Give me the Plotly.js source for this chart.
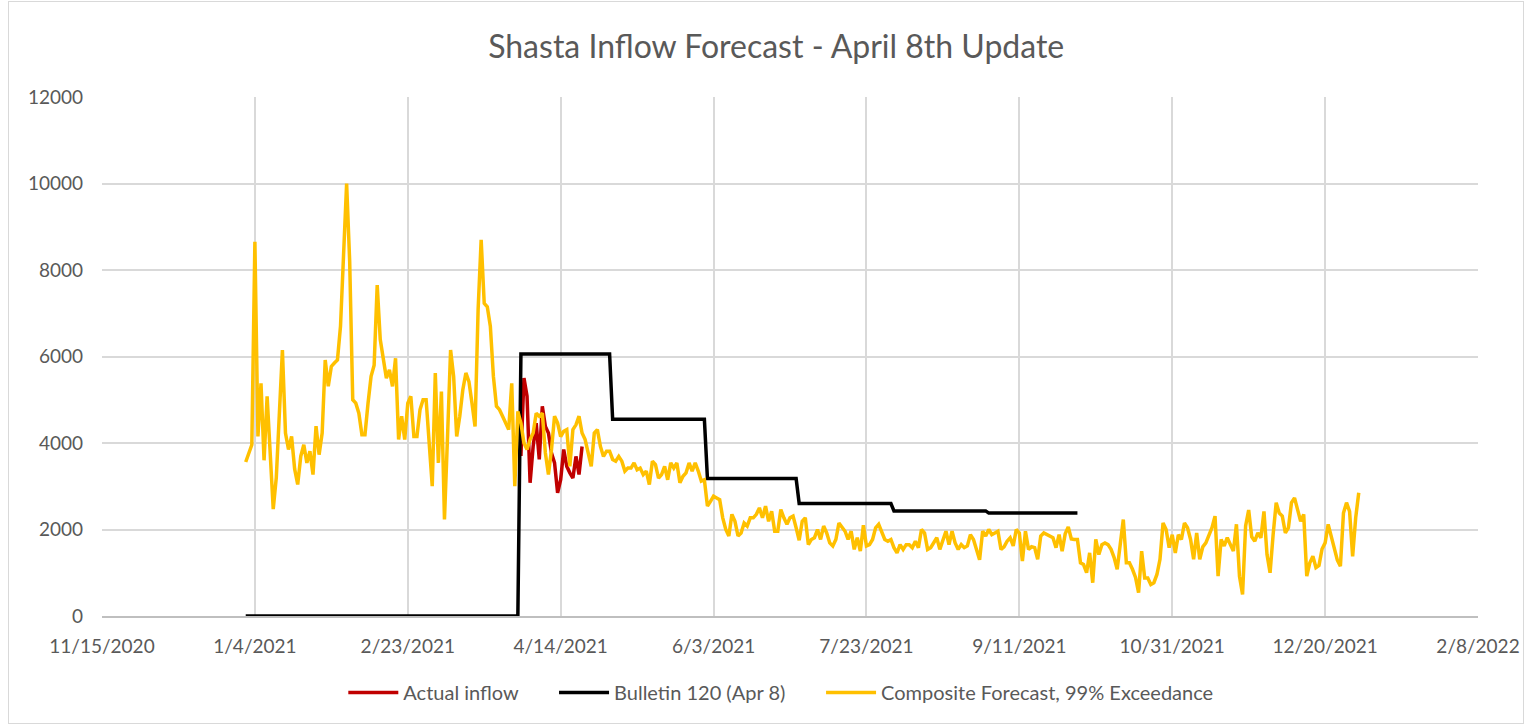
<!DOCTYPE html>
<html>
<head>
<meta charset="utf-8">
<script src="https://cdn.plot.ly/plotly-3.0.1.min.js"></script>
<style>
  html, body { margin: 0; padding: 0; background: #ffffff; }
  #wrap { position: relative; width: 1528px; height: 725px; }
  #chart { width: 1528px; height: 725px; }
  #frame {
    position: absolute; left: 8px; top: 1px; width: 1514px; height: 721px;
    border: 1px solid #d9d9d9; pointer-events: none;
  }
</style>
</head>
<body>
<div id="wrap">
  <div id="chart"></div>
  <div id="frame"></div>
</div>
<script>
// daily composite forecast, 1/1/2021 .. 12/31/2021 (cfs)
const compositeStart = "2021-01-01";
const compositeValues = [
  3560, 3750, 3960, 8650, 4150, 5380, 3600, 5080, 3770, 2470,
  3200, 4700, 6150, 4230, 3850, 4150, 3400, 3040, 3690, 3960,
  3540, 3810, 3270, 4390, 3730, 4230, 5920, 5310, 5770, 5850,
  5920, 6700, 8300, 10000, 8200, 5000, 4920, 4690, 4190, 4190,
  4920, 5540, 5800, 7650, 6390, 6000, 5500, 5690, 5310, 5960,
  4080, 4620, 4080, 4920, 5080, 4150, 4150, 4770, 5000, 5000,
  4000, 3000, 5620, 3540, 5190, 2230, 4150, 6150, 5540, 4150,
  4620, 5230, 5620, 5420, 4920, 4380, 7080, 8700, 7230, 7150,
  6700, 5540, 4850, 4770, 4620, 4460, 4310, 5380, 3000, 4730,
  4460, 4000, 3850, 4080, 4230, 4690, 4620, 4690, 3770, 3270,
  3850, 4620, 4460, 4150, 4270, 4310, 3460, 4310, 4420, 4620,
  4230, 4080, 3770, 3460, 4230, 4310, 3920, 3690, 3810, 3810,
  3620, 3580, 3690, 3580, 3350, 3420, 3420, 3540, 3380, 3420,
  3270, 3350, 3040, 3580, 3500, 3190, 3270, 3460, 3150, 3540,
  3420, 3540, 3080, 3230, 3310, 3540, 3350, 3540, 3350, 3120,
  3150, 2540, 2650, 2770, 2730, 2690, 2270, 2000, 1850, 2350,
  2190, 1850, 1920, 2150, 2080, 2270, 2270, 2350, 2500, 2270,
  2540, 2190, 2420, 1960, 1960, 2460, 2270, 2120, 2270, 2310,
  2040, 1750, 2190, 2270, 1650, 1770, 1810, 2000, 1770, 2080,
  1920, 1690, 1620, 1770, 2150, 2040, 1960, 1770, 1960, 1540,
  1810, 1500, 2100, 1620, 1650, 1770, 2040, 2120, 1960, 1770,
  1730, 1770, 1580, 1460, 1650, 1540, 1650, 1650, 1580, 1730,
  1580, 2000, 1920, 1540, 1580, 1690, 1810, 1540, 1730, 1960,
  1650, 1960, 1690, 1540, 1650, 1580, 1620, 1880, 1770, 1500,
  1300, 1960, 1850, 2000, 1880, 1920, 1960, 1540, 1600, 1730,
  1810, 1620, 2000, 1920, 1270, 1960, 1540, 1600, 1580, 1310,
  1850, 1920, 1880, 1830, 1810, 1580, 1880, 1500, 1900, 2060,
  1780, 1770, 1770, 1230, 1190, 1000, 1460, 770, 1770, 1420,
  1650, 1690, 1650, 1540, 1350, 1080, 1650, 2230, 1230, 1230,
  1080, 890, 540, 1500, 880, 880, 730, 770, 960, 1310,
  2150, 2000, 1580, 1880, 1460, 1880, 1770, 2150, 2040, 1770,
  1310, 1920, 1310, 1600, 1690, 1850, 2040, 2310, 920, 1770,
  1620, 1810, 1630, 1500, 2120, 920, 500, 2080, 2450, 1830,
  1730, 1920, 1810, 2420, 1420, 1000, 1880, 2620, 2380, 2310,
  1920, 2040, 2620, 2730, 2460, 2190, 2350, 920, 1230, 1380,
  1120, 1170, 1550, 1690, 2120, 1850, 1580, 1290, 1150, 2380,
  2620, 2420, 1380, 2270, 2850
];

// observed inflow, daily from 4/1/2021
const actualStart = "2021-04-01";
const actualValues = [
  3700, 5500, 5080, 3080, 3920, 4460, 3620, 4850, 4380, 4230,
  3770, 3540, 2850, 3150, 3850, 3460, 3310, 3190, 3690, 3270, 3920
];

// Bulletin 120 monthly steps
const bulletinDates = [
  "2021-01-01", "2021-03-31", "2021-04-01", "2021-04-30", "2021-05-01",
  "2021-05-31", "2021-06-01", "2021-06-30", "2021-07-01", "2021-07-31",
  "2021-08-01", "2021-08-31", "2021-09-01", "2021-09-30"
];
const bulletinValues = [
  0, 0, 6060, 6060, 4550, 4550, 3180, 3180, 2600, 2600, 2430, 2430, 2380, 2380
];

const tickDates = [
  "2020-11-15", "2021-01-04", "2021-02-23", "2021-04-14", "2021-06-03",
  "2021-07-23", "2021-09-11", "2021-10-31", "2021-12-20", "2022-02-08"
];
const tickLabels = [
  "11/15/2020", "1/4/2021", "2/23/2021", "4/14/2021", "6/3/2021",
  "7/23/2021", "9/11/2021", "10/31/2021", "12/20/2021", "2/8/2022"
];

(function () {
  const fontFamily = "Lato, 'Open Sans', sans-serif";
  const textColor = "#595959";
  const gridColor = "#d9d9d9";
  const pad = "\u00a0".repeat(6);

  function dailyDates(start, count) {
    const t0 = Date.parse(start + "T00:00:00Z");
    const out = [];
    for (let i = 0; i < count; i += 1) {
      out.push(new Date(t0 + i * 86400000).toISOString().slice(0, 10));
    }
    return out;
  }

  const traces = [
    {
      type: "scatter",
      mode: "lines",
      name: "Actual inflow" + pad,
      x: dailyDates(actualStart, actualValues.length),
      y: actualValues,
      line: { color: "#c00000", width: 3.5 },
      hovertemplate: "%{x}: %{y}<extra></extra>"
    },
    {
      type: "scatter",
      mode: "lines",
      name: "Bulletin 120 (Apr 8)" + pad,
      x: bulletinDates,
      y: bulletinValues,
      line: { color: "#000000", width: 3.5 },
      hovertemplate: "%{x}: %{y}<extra></extra>"
    },
    {
      type: "scatter",
      mode: "lines",
      name: "Composite Forecast, 99% Exceedance",
      x: dailyDates(compositeStart, compositeValues.length),
      y: compositeValues,
      line: { color: "#ffc000", width: 3.5 },
      hovertemplate: "%{x}: %{y}<extra></extra>"
    }
  ];

  const layout = {
    width: 1528,
    height: 725,
    margin: { l: 102, r: 50, t: 97, b: 109 },
    paper_bgcolor: "#ffffff",
    plot_bgcolor: "#ffffff",
    font: { family: fontFamily, color: textColor, size: 19 },
    title: {
      text: "Shasta Inflow Forecast - April 8th Update",
      font: { family: fontFamily, size: 32, color: textColor },
      xref: "container",
      x: 0.508,
      xanchor: "center",
      yref: "container",
      y: 0.935,
      yanchor: "middle"
    },
    xaxis: {
      type: "date",
      range: ["2020-11-15", "2022-02-08"],
      tickmode: "array",
      tickvals: tickDates,
      ticktext: tickLabels,
      showgrid: true,
      gridcolor: gridColor,
      gridwidth: 1.5,
      showline: true,
      linecolor: "#bfbfbf",
      linewidth: 1.5,
      zeroline: false,
      ticks: "",
      ticklabelstandoff: 12,
      tickfont: { family: fontFamily, size: 19, color: textColor }
    },
    yaxis: {
      range: [0, 12000],
      tickmode: "linear",
      tick0: 0,
      dtick: 2000,
      tickformat: "d",
      showgrid: true,
      gridcolor: gridColor,
      gridwidth: 1.5,
      showline: false,
      zeroline: false,
      ticks: "",
      ticklabelstandoff: 18,
      tickfont: { family: fontFamily, size: 19, color: textColor }
    },
    showlegend: true,
    legend: {
      orientation: "h",
      xref: "container",
      x: 0.511,
      xanchor: "center",
      yref: "container",
      y: 0.045,
      yanchor: "middle",
      itemwidth: 50,
      font: { family: fontFamily, size: 20, color: textColor },
      bgcolor: "rgba(0,0,0,0)"
    }
  };

  Plotly.newPlot("chart", traces, layout, { displayModeBar: false, responsive: false });
})();
</script>
</body>
</html>
